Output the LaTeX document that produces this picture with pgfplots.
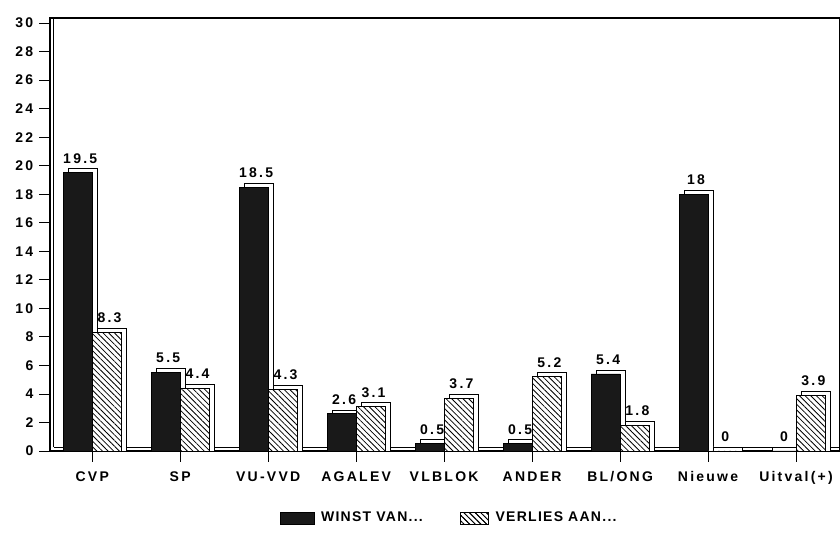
\documentclass[border=0pt]{standalone}
\usepackage{fontspec}
\setmainfont{Liberation Sans}
\newfontfamily\lbl[LetterSpace=16]{Liberation Sans}
\newfontfamily\lgd[LetterSpace=9]{Liberation Sans}
\usepackage{pgfplots}
\usepackage{pgfplotstable}
\pgfplotsset{compat=1.18}
\usetikzlibrary{patterns.meta}
\pgfplotstableread{
x w v
0 19.5 8.3
1 5.5 4.4
2 18.5 4.3
3 2.6 3.1
4 0.5 3.7
5 0.5 5.2
6 5.4 1.8
7 18 0
8 0 3.9
}\data
\begin{document}
\begin{tikzpicture}
\useasboundingbox (-37.5pt,-67.5pt) rectangle (592.5pt,338.25pt);
\begin{axis}[
  scale only axis,
  width=592.5pt, height=324.75pt,
  xmin=-0.48, xmax=8.5,
  ymin=0, ymax=30.35,
  ytick={0,2,...,30},
  xtick={0,...,8},
  xtick pos=lower, ytick pos=left,
  xticklabels={CVP,SP,VU-VVD,AGALEV,VLBLOK,ANDER,BL/ONG,Nieuwe,Uitval(+)},
  tick align=outside,
  major tick length=8pt,
  tick style={black, line width=0.6pt},
  axis line style={black, line width=0.8pt},
  /pgf/number format/assume math mode=true,
  tick label style={font=\lbl\bfseries\fontsize{10.5}{12}\selectfont},
  xticklabel style={yshift=-4pt},
  yticklabel style={xshift=-1pt},
  legend style={at={(0.506,-0.155)}, anchor=center, draw=none, fill=none,
    legend columns=2, font=\lgd\bfseries\fontsize{10.5}{12}\selectfont,
    /tikz/every odd column/.append style={column sep=3pt},
    /tikz/every even column/.append style={column sep=26pt}},
]
% left wall inner line
\addplot[black, line width=0.5pt, forget plot] coordinates {(-0.44,0.28) (-0.44,30.35)};
% floor back line
\addplot[black, line width=0.5pt, forget plot] coordinates {(-0.44,0.28) (8.5,0.28)};
% back faces (3D depth)
\addplot[ybar, bar width=21.75pt, bar shift=-7.125pt, fill=white, draw=black, line width=0.6pt, forget plot]
  table[x=x, y expr=\thisrow{w}+0.28] {\data};
\addplot[ybar, bar width=21.75pt, bar shift=14.625pt, fill=white, draw=black, line width=0.6pt, forget plot]
  table[x=x, y expr=\thisrow{v}+0.28] {\data};
% front faces
\addplot[ybar, bar width=21.75pt, bar shift=-10.875pt, fill=black!90, draw=black, line width=0.6pt,
  nodes near coords,
  nodes near coords style={font=\lbl\bfseries\fontsize{10.5}{12}\selectfont, anchor=south, yshift=3.5pt, xshift=-9pt, black},
  legend image code/.code={\draw[fill=black!90,draw=black] (0pt,-4.5pt) rectangle (25pt,4.5pt);}]
  table[x=x, y=w] {\data};
\addlegendentry{WINST VAN...}
\addplot[ybar, bar width=21.75pt, bar shift=10.875pt, fill=white, draw=black, line width=0.6pt,
  postaction={pattern={Lines[angle=-45,distance=3pt,line width=0.6pt]}, pattern color=black},
  nodes near coords,
  nodes near coords style={font=\lbl\bfseries\fontsize{10.5}{12}\selectfont, anchor=south, yshift=3.5pt, xshift=13pt, black},
  legend image code/.code={\draw[fill=white,draw=black,postaction={pattern={Lines[angle=-45,distance=3pt,line width=0.6pt]}, pattern color=black}] (0pt,-4.5pt) rectangle (21pt,4.5pt);}]
  table[x=x, y=v] {\data};
\addlegendentry{VERLIES AAN...}
\end{axis}
\end{tikzpicture}
\end{document}
